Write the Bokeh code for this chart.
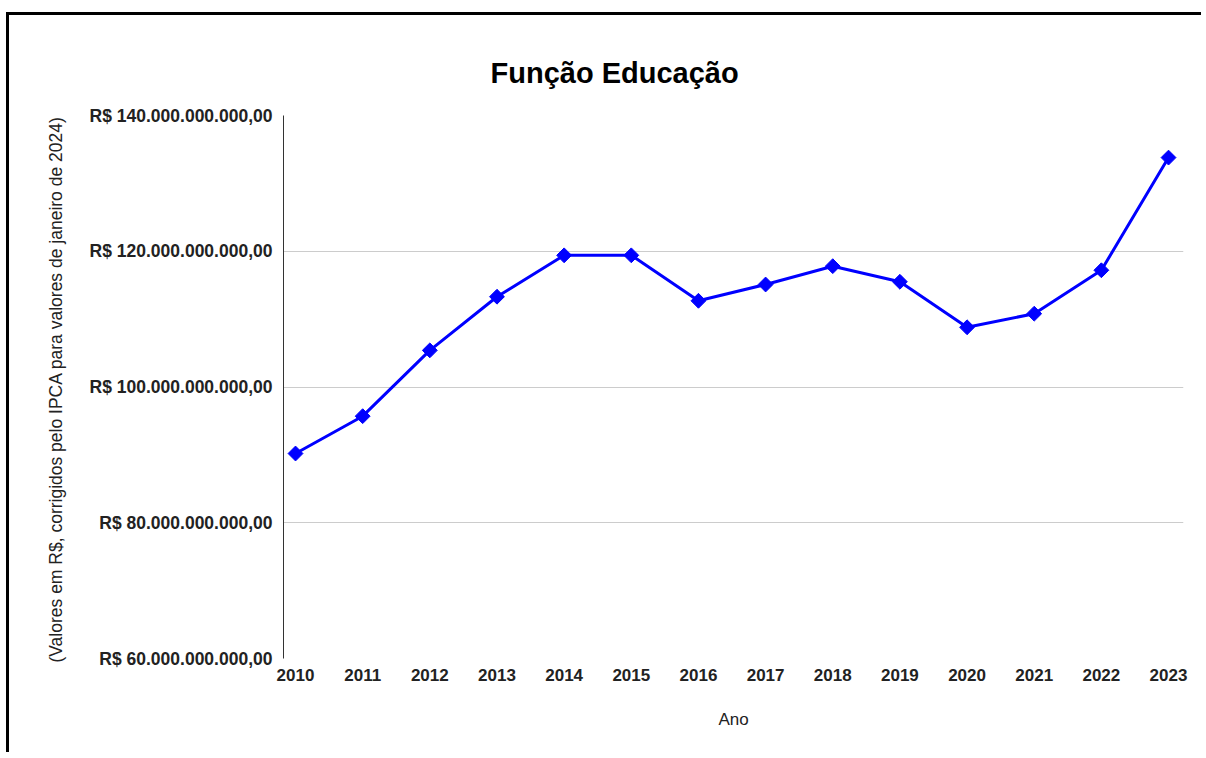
from bokeh.plotting import figure
from bokeh.models import FixedTicker, Range1d, ColumnDataSource
from bokeh.embed import file_html
from bokeh.resources import INLINE
import math

title_text = "Função Educação"
x_label = "Ano"
y_label = "(Valores em R$, corrigidos pelo IPCA para valores de janeiro  de 2024)"

years = [2010, 2011, 2012, 2013, 2014, 2015, 2016, 2017, 2018, 2019, 2020, 2021, 2022, 2023]
values = [90.2e9, 95.7e9, 105.4e9, 113.3e9, 119.4e9, 119.4e9, 112.7e9,
          115.1e9, 117.8e9, 115.5e9, 108.8e9, 110.8e9, 117.2e9, 133.8e9]

y_ticks = [60e9, 80e9, 100e9, 120e9, 140e9]
y_tick_labels = ["R$ 60.000.000.000,00", "R$ 80.000.000.000,00", "R$ 100.000.000.000,00",
                 "R$ 120.000.000.000,00", "R$ 140.000.000.000,00"]
x_tick_labels = [str(y) for y in years]

src = ColumnDataSource(dict(x=years, y=values))

p = figure(width=1195, height=740, output_backend="svg", toolbar_location=None,
           x_range=Range1d(2009.821, 2023.223), y_range=Range1d(60e9, 140e9),
           min_border_left=274, min_border_top=100, min_border_right=21, min_border_bottom=97)
p.styles = {"margin-top": "12px", "margin-left": "6px",
            "border-top": "3px solid black", "border-left": "3px solid black"}

p.outline_line_color = None
p.background_fill_color = "white"
p.border_fill_color = "white"

p.title.text = title_text
p.title.align = "left"
p.title.offset = 207
p.title.text_font = "Liberation Sans"
p.title.text_font_size = "29px"
p.title.text_font_style = "bold"
p.title.text_color = "#000000"
p.title.standoff = 54

p.line("x", "y", source=src, line_color="#0000ff", line_width=3)
p.scatter("x", "y", source=src, marker="square", size=10.5, angle=math.pi / 4,
          fill_color="#0000ff", line_color="#0000ff")

# X axis
xa = p.xaxis[0]
xa.ticker = FixedTicker(ticks=years)
xa.major_label_overrides = {y: l for y, l in zip(years, x_tick_labels)}
xa.axis_line_color = None
xa.major_tick_line_color = None
xa.minor_tick_line_color = None
xa.major_tick_out = 0
xa.major_tick_in = 0
xa.major_label_standoff = 10
xa.major_label_text_font = "Liberation Sans"
xa.major_label_text_font_size = "17px"
xa.major_label_text_font_style = "bold"
xa.major_label_text_color = "#222222"
xa.axis_label = x_label
xa.axis_label_text_font = "Liberation Sans"
xa.axis_label_text_font_size = "17px"
xa.axis_label_text_font_style = "normal"
xa.axis_label_text_color = "#222222"
xa.axis_label_standoff = 26

# Y axis
ya = p.yaxis[0]
ya.ticker = FixedTicker(ticks=y_ticks)
ya.major_label_overrides = {t: l for t, l in zip(y_ticks, y_tick_labels)}
ya.axis_line_color = "#333333"
ya.axis_line_width = 1
ya.major_tick_line_color = None
ya.minor_tick_line_color = None
ya.major_tick_out = 0
ya.major_tick_in = 0
ya.major_label_standoff = 11
ya.major_label_text_font = "Liberation Sans"
ya.major_label_text_font_size = "17.5px"
ya.major_label_text_font_style = "bold"
ya.major_label_text_color = "#222222"
ya.axis_label = y_label
ya.axis_label_text_font = "Liberation Sans"
ya.axis_label_text_font_size = "17.5px"
ya.axis_label_text_font_style = "normal"
ya.axis_label_text_color = "#222222"
ya.axis_label_standoff = 21

p.xgrid.grid_line_color = None
p.ygrid.grid_line_color = "#cccccc"
p.ygrid.grid_line_width = 1

open("out.html", "w").write(file_html(p, INLINE))
